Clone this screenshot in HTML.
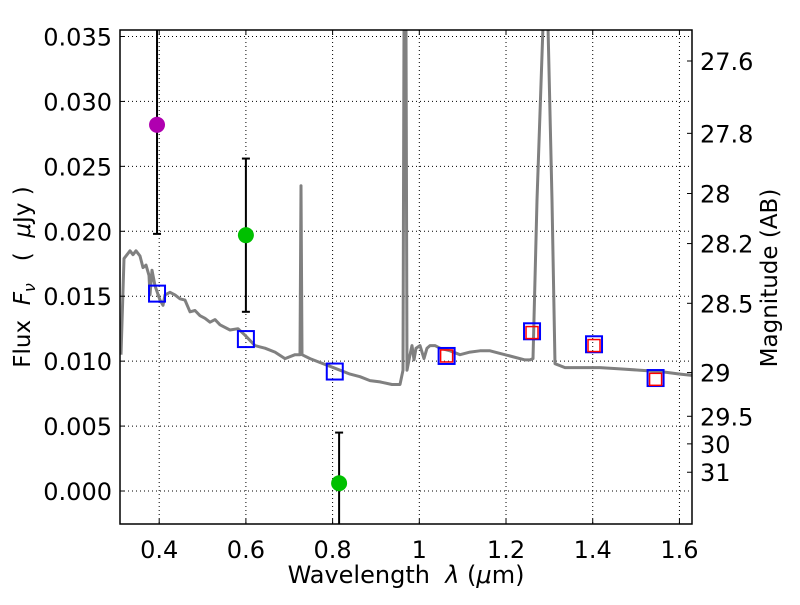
<!DOCTYPE html>
<html><head><meta charset="utf-8"><style>
body{margin:0;background:#fff}
svg text{font-family:"DejaVu Sans","Liberation Sans",sans-serif;fill:#000}
</style></head><body>
<svg id="chart" width="800" height="600" xmlns="http://www.w3.org/2000/svg">
<rect width="800" height="600" fill="#fff"/>
<g id="grid"></g>
<g id="spec"></g>
<g id="marks"></g>
<g id="axes"></g>
<text x="406" y="583" font-size="24" text-anchor="middle" xml:space="preserve">Wavelength  <tspan font-style="italic">λ</tspan> (<tspan font-style="italic">μ</tspan>m)</text>
<text transform="translate(30,277) rotate(-90)" font-size="23" text-anchor="middle" xml:space="preserve">Flux  <tspan font-style="italic">F<tspan font-size="16" dy="5">ν</tspan></tspan><tspan dy="-5">   (  </tspan><tspan font-style="italic">μ</tspan>Jy )</text>
<text transform="translate(777,278) rotate(-90)" font-size="23" text-anchor="middle">Magnitude (AB)</text>
</svg>
<script>
const xTicks=[0.4,0.6,0.8,1.0,1.2,1.4,1.6];
const xTickLabels=["0.4","0.6","0.8","1","1.2","1.4","1.6"];
const yTicks=[0,0.005,0.010,0.015,0.020,0.025,0.030,0.035];
const yTickLabels=["0.000","0.005","0.010","0.015","0.020","0.025","0.030","0.035"];
const magTicks=[27.6,27.8,28,28.2,28.5,29,29.5,30,31];
const magTickLabels=["27.6","27.8","28","28.2","28.5","29","29.5","30","31"];
const specLam=[0.3119,0.3188,0.3257,0.3327,0.3396,0.3465,0.3557,0.3627,0.3696,0.3765,0.3788,0.3834,0.3903,0.4019,0.4088,0.4134,0.4249,0.4365,0.4480,0.4595,0.4711,0.4826,0.4941,0.5057,0.5172,0.5287,0.5403,0.5634,0.5818,0.5980,0.6095,0.6210,0.6326,0.6441,0.6672,0.6902,0.7133,0.7248,0.7271,0.7294,0.7479,0.7709,0.7940,0.8171,0.8402,0.8632,0.8863,0.9094,0.9371,0.9555,0.9624,0.9647,0.9693,0.9716,0.9786,0.9832,0.9878,0.9924,1.0016,1.0109,1.0178,1.0247,1.0362,1.0478,1.0709,1.0939,1.1170,1.1401,1.1631,1.1862,1.2093,1.2439,1.2554,1.2623,1.2715,1.2854,1.2969,1.3061,1.3130,1.3361,1.3707,1.4169,1.4630,1.5092,1.5553,1.6015,1.6292];
const specFlux=[0.0105,0.0179,0.0182,0.0185,0.0182,0.0185,0.0181,0.0172,0.0174,0.0166,0.0151,0.0170,0.0158,0.0147,0.0143,0.0151,0.0153,0.0151,0.0148,0.0147,0.0138,0.0139,0.0135,0.0133,0.0130,0.0132,0.0128,0.0124,0.0125,0.0120,0.0116,0.0112,0.0111,0.0110,0.0107,0.0102,0.0105,0.0105,0.0235,0.0105,0.0102,0.0099,0.0096,0.0093,0.0090,0.0088,0.0085,0.0084,0.0082,0.0082,0.0093,0.0358,0.0358,0.0093,0.0105,0.0112,0.0101,0.0110,0.0112,0.0102,0.0110,0.0112,0.0112,0.0110,0.0108,0.0105,0.0107,0.0108,0.0108,0.0106,0.0104,0.0101,0.0101,0.0102,0.0224,0.0358,0.0358,0.0224,0.0098,0.0095,0.0095,0.0095,0.0094,0.0093,0.0092,0.0090,0.0089];
const ptLam=[0.395,0.600,0.815];
const ptFlux=[0.0282,0.0197,0.0006];
const ptErrLo=[0.0198,0.0138,-0.0033];
const ptErrHi=[0.0366,0.0256,0.0045];
const ptColor=["#b000b0","#00c000","#00c000"];
const bandLam=[0.395,0.600,0.805,1.063,1.260,1.403,1.545];
const bandFlux=[0.0152,0.0117,0.0092,0.0104,0.0123,0.0113,0.0087];
const modelLam=[1.063,1.260,1.403,1.545];
const modelFlux=[0.0104,0.0122,0.0112,0.0086];

const L=120,R=692,T=30,B=524;
const xMin=0.3096,xMax=1.629,yMin=-0.00254,yMax=0.0355;
const X=v=>L+(v-xMin)/(xMax-xMin)*(R-L);
const Y=v=>B-(v-yMin)/(yMax-yMin)*(B-T);
const magToFlux=m=>Math.pow(10,-(m-23.9)/2.5);
const NS="http://www.w3.org/2000/svg";
function mk(parent,tag,attrs){const e=document.createElementNS(NS,tag);for(const k in attrs)e.setAttribute(k,attrs[k]);parent.appendChild(e);return e;}
const grid=document.getElementById('grid'),axes=document.getElementById('axes'),spec=document.getElementById('spec'),marks=document.getElementById('marks');
const defs=mk(document.getElementById('chart'),'defs',{});const cp=mk(defs,'clipPath',{id:'clip'});mk(cp,'rect',{x:L,y:T,width:R-L,height:B-T});
xTicks.forEach((t,i)=>{const x=X(t);
 const g=mk(grid,'line',{x1:x,x2:x,y1:T,y2:B,stroke:'#000','stroke-width':1,'stroke-dasharray':'1,3'});
 
 mk(axes,'line',{x1:x,x2:x,y1:B,y2:B-5,stroke:'#000'});mk(axes,'line',{x1:x,x2:x,y1:T,y2:T+5,stroke:'#000'});
 const tx=mk(axes,'text',{x:x,y:B+34,'font-size':24,'text-anchor':'middle'});tx.textContent=xTickLabels[i];
 });
yTicks.forEach((t,i)=>{const y=Y(t);
 const g=mk(grid,'line',{x1:L,x2:R,y1:y,y2:y,stroke:'#000','stroke-width':1,'stroke-dasharray':'1,3'});
 
 mk(axes,'line',{x1:L,x2:L+5,y1:y,y2:y,stroke:'#000'});
 const tx=mk(axes,'text',{x:L-8,y:y+9,'font-size':24,'text-anchor':'end'});tx.textContent=yTickLabels[i];
 });
magTicks.forEach((m,i)=>{const y=Y(magToFlux(m));
 mk(axes,'line',{x1:R,x2:R-5,y1:y,y2:y,stroke:'#000'});
 const tx=mk(axes,'text',{x:R+8,y:y+9,'font-size':24});tx.textContent=magTickLabels[i];
 });
const sp=mk(spec,'polyline',{points:specLam.map((l,i)=>X(l).toFixed(1)+','+Y(specFlux[i]).toFixed(1)).join(' '),fill:'none',stroke:'#808080','stroke-width':3,'stroke-linejoin':'round','clip-path':'url(#clip)'});

marks.setAttribute('clip-path','url(#clip)');
bandLam.forEach((l,i)=>{const r=mk(marks,'rect',{x:X(l)-8,y:Y(bandFlux[i])-8,width:16,height:16,fill:'none',stroke:'#0000ff','stroke-width':2});
 });
modelLam.forEach((l,i)=>{const r=mk(marks,'rect',{x:X(l)-6,y:Y(modelFlux[i])-6,width:12,height:12,fill:'none',stroke:'#ff0000','stroke-width':1.5});
 });
ptLam.forEach((l,i)=>{const x=X(l);
 const e=mk(marks,'line',{x1:x,x2:x,y1:Y(ptErrLo[i]),y2:Y(ptErrHi[i]),stroke:'#000','stroke-width':2});
 
 mk(marks,'line',{x1:x-4,x2:x+4,y1:Y(ptErrLo[i]),y2:Y(ptErrLo[i]),stroke:'#000','stroke-width':2});
 mk(marks,'line',{x1:x-4,x2:x+4,y1:Y(ptErrHi[i]),y2:Y(ptErrHi[i]),stroke:'#000','stroke-width':2});
 const c=mk(marks,'circle',{cx:x,cy:Y(ptFlux[i]),r:8,fill:ptColor[i]});
 });
const fr=mk(axes,'rect',{x:L,y:T,width:R-L,height:B-T,fill:'none',stroke:'#000','stroke-width':1.5});

</script>
</body></html>
